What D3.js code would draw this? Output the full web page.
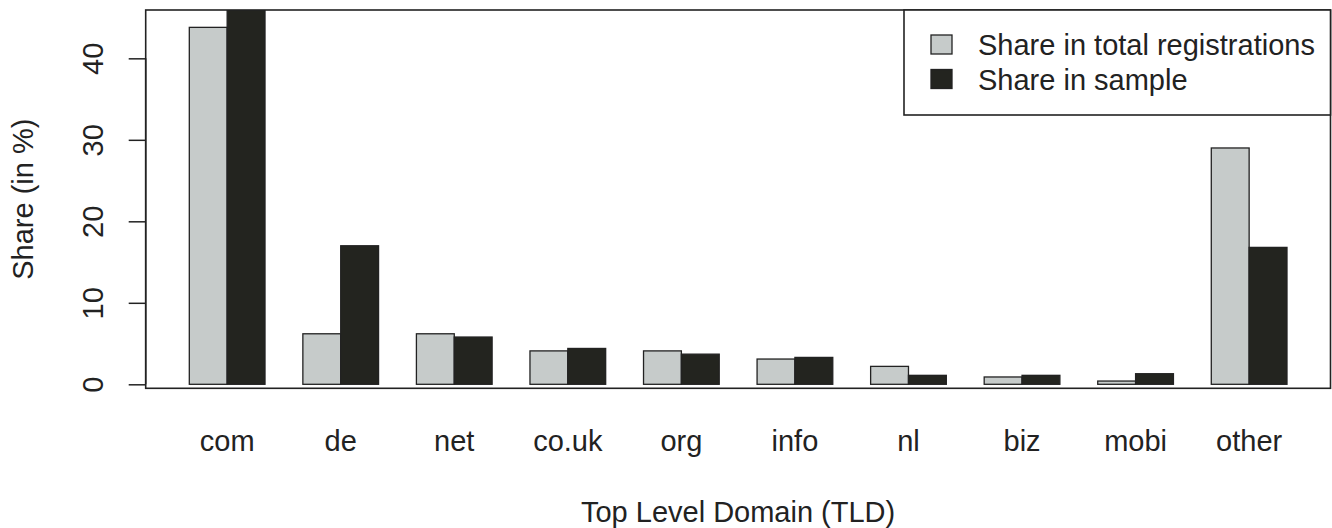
<!DOCTYPE html>
<html>
<head>
<meta charset="utf-8">
<script src="https://cdn.jsdelivr.net/npm/d3@7"></script>
<style>
  html, body { margin: 0; padding: 0; background: #fff; }
  svg { display: block; }
  text { font-family: "Liberation Sans", Arial, Helvetica, sans-serif; fill: #222; }
</style>
</head>
<body>
<svg id="chart" width="1332" height="528"></svg>
<script>
// ---- data ----
const categories = ["com", "de", "net", "co.uk", "org", "info", "nl", "biz", "mobi", "other"];
const seriesNames = ["Share in total registrations", "Share in sample"];
const shareTotal  = [43.8, 6.2, 6.2, 4.1, 4.1, 3.1, 2.2, 0.9, 0.4, 29.0];
const shareSample = [46.0, 17.0, 5.8, 4.4, 3.7, 3.3, 1.1, 1.1, 1.3, 16.8];
const yTicks = [0, 10, 20, 30, 40];
const xTitle = "Top Level Domain (TLD)";
const yTitle = "Share (in %)";

// ---- layout ----
const colors = ["#c6cbca", "#23241f"];
const ink = "#222";
const box = { left: 145.7, right: 1330.5, top: 10, bottom: 388.3 };
const fontSize = 29;

const svg = d3.select("#chart");

// unit scale in R barplot units (xlim extended by 4%)
const xu = d3.scaleLinear().domain([-0.16, 31.16]).range([145.4, 1330.9]);
const x0 = d3.scaleBand().domain(categories)
  .range([xu(0), xu(30)]).paddingInner(1 / 3).paddingOuter(1 / 6).align(1);
const x1 = d3.scaleBand().domain([0, 1]).range([0, x0.bandwidth()]);
const y = d3.scaleLinear().domain([-0.49, 45.93]).range([box.bottom, box.top]);

// clip
svg.append("defs").append("clipPath").attr("id", "plotclip")
  .append("rect")
  .attr("x", box.left).attr("y", box.top)
  .attr("width", box.right - box.left).attr("height", box.bottom - box.top);

const rows = categories.map((c, i) => ({ cat: c, vals: [shareTotal[i], shareSample[i]] }));

const bars = svg.append("g").attr("clip-path", "url(#plotclip)");
bars.selectAll("g.grp").data(rows).join("g")
  .attr("class", "grp")
  .attr("transform", d => `translate(${x0(d.cat)},0)`)
  .selectAll("rect").data(d => d.vals.map((v, j) => ({ v, j })))
  .join("rect")
  .attr("x", d => x1(d.j))
  .attr("width", x1.bandwidth())
  .attr("y", d => y(d.v))
  .attr("height", d => y(0) - y(d.v))
  .attr("fill", d => colors[d.j])
  .attr("stroke", ink)
  .attr("stroke-width", 1.3);

// plot box
svg.append("rect")
  .attr("x", box.left).attr("y", box.top)
  .attr("width", box.right - box.left).attr("height", box.bottom - box.top)
  .attr("fill", "none").attr("stroke", ink).attr("stroke-width", 1.6);

// y axis
const yAxis = svg.append("g")
  .attr("transform", `translate(${box.left},0)`)
  .call(d3.axisLeft(y).tickValues(yTicks).tickSize(17).tickFormat(d3.format("d")));
yAxis.select(".domain")
  .attr("d", `M0,${y(0)}V${y(40)}`)
  .attr("stroke", ink).attr("stroke-width", 1.5);
yAxis.selectAll(".tick line").attr("stroke", ink).attr("stroke-width", 1.5);
yAxis.selectAll(".tick text")
  .attr("x", 0).attr("dy", null)
  .attr("text-anchor", "middle")
  .attr("transform", "translate(-42.7,0) rotate(-90)")
  .style("font-size", fontSize + "px")
  .style("font-family", '"Liberation Sans", Arial, sans-serif')
  .attr("fill", ink);

// x axis (category labels only)
const xAxis = svg.append("g")
  .call(d3.axisBottom(x0).tickSize(0).tickPadding(0));
xAxis.select(".domain").remove();
xAxis.selectAll(".tick text")
  .attr("y", 450.7).attr("dy", null)
  .style("font-size", fontSize + "px")
  .style("font-family", '"Liberation Sans", Arial, sans-serif')
  .attr("fill", ink);

// axis titles
svg.append("text")
  .attr("x", (box.left + box.right) / 2).attr("y", 521.5)
  .attr("text-anchor", "middle")
  .style("font-size", fontSize + "px")
  .text(xTitle);

svg.append("text")
  .attr("transform", `translate(33.3,${(box.top + box.bottom) / 2}) rotate(-90)`)
  .attr("text-anchor", "middle")
  .style("font-size", fontSize + "px")
  .text(yTitle);

// legend
const leg = svg.append("g");
leg.append("rect")
  .attr("x", 904).attr("y", box.top)
  .attr("width", box.right - 904).attr("height", 115 - box.top)
  .attr("fill", "#fff").attr("stroke", ink).attr("stroke-width", 1.6);
const items = leg.selectAll("g.item").data(seriesNames).join("g").attr("class", "item")
  .attr("transform", (d, i) => `translate(0,${i * 34.5})`);
items.append("rect")
  .attr("x", 931).attr("y", 35).attr("width", 21).attr("height", 19)
  .attr("fill", (d, i) => colors[i]).attr("stroke", ink).attr("stroke-width", 1.3);
items.append("text")
  .attr("x", 978).attr("y", 55)
  .style("font-size", fontSize + "px")
  .text(d => d);
</script>
</body>
</html>
